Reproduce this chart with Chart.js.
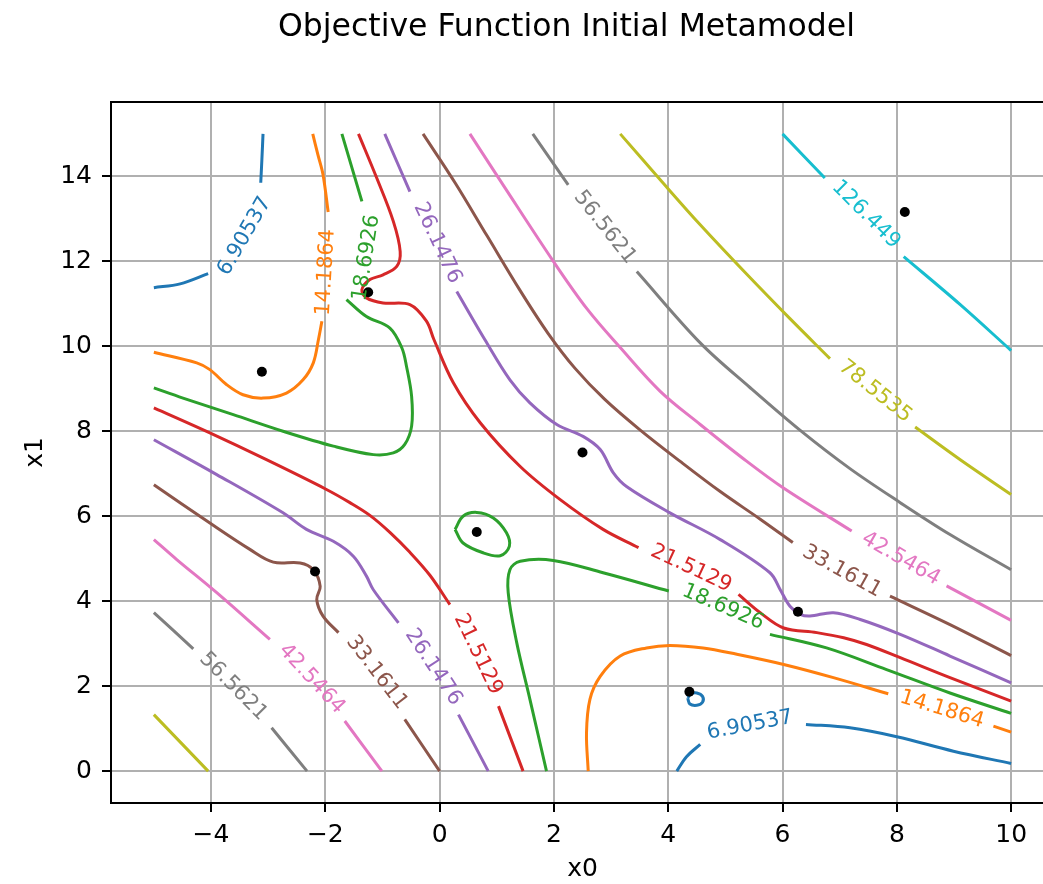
<!DOCTYPE html>
<html>
<head>
<meta charset="utf-8">
<title>Objective Function Initial Metamodel</title>
<script src="https://cdn.jsdelivr.net/npm/chart.js@4.4.1/dist/chart.umd.min.js"></script>
<style>
html, body { margin: 0; padding: 0; overflow: hidden; background: #fff; }
#wrap { width: 1043px; height: 884px; overflow: hidden; position: relative; }
canvas { display: block; }
</style>
</head>
<body>
<div id="wrap"><canvas id="chart" width="1080" height="884"></canvas></div>
<script>
// Contour levels of the metamodel surface
const levels = [6.90537, 14.1864, 18.6926, 21.5129, 26.1476, 33.1611, 42.5464, 56.5621, 78.5535, 126.449];

// Contour polylines per level, as [x0, x1]; a null marks the break left for an inline label
const contour0 = [
  [[-5.0, 11.38], [-4.54, 11.47], [-4.05, 11.71], null, [-3.13, 13.85], [-3.11, 14.39], [-3.09, 15.0]],
  [[4.15, 0.0], [4.32, 0.34], [4.56, 0.63], null, [6.41, 1.10], [7.18, 1.02], [8.0, 0.81], [8.99, 0.47], [10.0, 0.18]],
  [[4.34, 1.72], [4.40, 1.82], [4.50, 1.84], [4.60, 1.76], [4.60, 1.62], [4.50, 1.55], [4.38, 1.58], [4.34, 1.72]]
];
const contour1 = [
  [[-2.22, 15.0], [-2.13, 14.51], [-2.04, 14.04], [-1.95, 13.16], null, [-2.06, 10.59], [-2.12, 10.16], [-2.21, 9.61],
   [-2.39, 9.21], [-2.68, 8.90], [-3.09, 8.78], [-3.44, 8.86], [-3.73, 9.10], [-4.02, 9.45], [-4.25, 9.61], [-5.0, 9.86]],
  [[2.60, 0.0], [2.57, 0.90], [2.63, 1.69], [2.81, 2.23], [3.16, 2.71], [3.62, 2.90], [4.03, 2.96], [4.61, 2.90],
   [5.20, 2.75], [6.02, 2.51], [6.89, 2.20], [7.85, 1.82], null, [9.69, 1.06], [10.0, 0.92]]
];
const contour2 = [
  [[-1.71, 15.0], [-1.36, 13.41], null, [-1.63, 11.10], [-1.28, 10.70], [-0.87, 10.43], [-0.66, 9.96], [-0.58, 9.53],
   [-0.49, 8.82], [-0.49, 8.12], [-0.61, 7.69], [-0.81, 7.49], [-1.16, 7.45], [-1.86, 7.65], [-2.74, 8.00],
   [-3.61, 8.39], [-4.49, 8.78], [-5.0, 9.02]],
  [[1.87, 0.0], [1.58, 1.69], [1.35, 3.02], [1.20, 4.20], [1.23, 4.74], [1.41, 4.94], [1.99, 4.96], [2.86, 4.67],
   [4.01, 4.24], null, [5.78, 3.22], [6.77, 2.90], [7.82, 2.39], [8.93, 1.84], [10.0, 1.36]],
  [[0.27, 5.69], [0.41, 6.00], [0.65, 6.09], [0.94, 5.96], [1.17, 5.61], [1.22, 5.29], [1.06, 5.07], [0.76, 5.14],
   [0.41, 5.37], [0.27, 5.69]]
];
const contour3 = [
  [[-1.42, 15.0], [-1.10, 13.96], [-0.81, 12.94], [-0.69, 12.23], [-0.75, 11.88], [-0.99, 11.68], [-1.22, 11.57],
   [-1.36, 11.33], [-1.28, 11.14], [-0.99, 11.02], [-0.52, 10.98], [-0.23, 10.59], [-0.10, 10.16], [0.24, 9.14],
   [0.71, 8.20], [1.41, 7.17], [2.11, 6.39], [2.86, 5.69], [3.48, 5.26], null, [5.23, 4.16], [5.61, 3.73],
   [6.02, 3.37], [6.60, 3.26], [7.07, 3.14], [7.47, 2.98], [8.06, 2.67], [8.93, 2.20], [10.0, 1.65]],
  [[-5.0, 8.55], [-4.02, 7.96], [-3.03, 7.33], [-1.98, 6.63], [-1.57, 6.32], [-1.22, 6.02], [-0.87, 5.62],
   [-0.52, 5.15], [-0.17, 4.61], [0.18, 3.92], null, [1.03, 1.53], [1.46, 0.0]]
];
const contour4 = [
  [[-0.96, 15.0], [-0.52, 13.64], null, [0.30, 11.29], [0.79, 10.16], [1.23, 9.21], [1.58, 8.67], [2.05, 8.16],
   [2.51, 7.88], [2.81, 7.57], [3.04, 7.02], [3.27, 6.70], [4.03, 6.08], [4.91, 5.45], [5.78, 4.67], [5.96, 4.27],
   [6.13, 3.88], [6.31, 3.69], [6.48, 3.65], [6.89, 3.73], [7.36, 3.57], [8.06, 3.22], [8.93, 2.71], [10.0, 2.08]],
  [[-5.0, 7.80], [-3.90, 6.98], [-2.74, 6.08], [-2.33, 5.69], [-1.86, 5.41], [-1.51, 5.06], [-1.28, 4.59],
   [-1.16, 4.27], [-0.72, 3.49], null, [0.33, 1.33], [0.85, 0.0]]
];
const contour5 = [
  [[-0.29, 15.0], [0.27, 13.85], [0.83, 12.60], [1.41, 11.31], [1.90, 10.30], [2.37, 9.48], [2.89, 8.75],
   [3.50, 8.04], [4.21, 7.29], [4.91, 6.58], [5.61, 5.93], [6.18, 5.38], null, [7.88, 4.12], [8.93, 3.45], [10.0, 2.72]],
  [[-5.0, 6.74], [-4.02, 5.84], [-3.32, 5.22], [-2.91, 4.92], [-2.44, 4.90], [-2.21, 4.74], [-2.09, 4.35],
   [-2.15, 4.04], [-2.04, 3.65], [-1.77, 3.26], null, [-0.61, 1.22], [0.0, 0.0]]
];
const contour6 = [
  [[0.53, 15.0], [1.11, 13.80], [1.99, 12.0], [2.58, 10.88], [3.16, 9.97], [3.86, 8.94], [4.56, 8.16],
   [5.31, 7.36], [6.01, 6.67], [7.21, 5.65], null, [8.87, 4.36], [10.0, 3.55]],
  [[-5.0, 5.45], [-4.60, 4.98], [-3.90, 4.20], [-2.97, 3.10], null, [-1.66, 1.18], [-1.01, 0.0]]
];
const contour7 = [
  [[1.63, 15.0], [2.25, 13.80], null, [3.45, 11.76], [4.56, 10.08], [5.43, 9.03], [6.31, 8.02], [7.18, 7.12],
   [8.06, 6.32], [8.93, 5.57], [10.0, 4.74]],
  [[-5.0, 3.73], [-4.31, 2.88], null, [-2.94, 1.02], [-2.32, 0.0]]
];
const contour8 = [
  [[3.16, 15.0], [3.86, 13.92], [4.56, 12.86], [5.35, 11.73], [6.13, 10.65], [6.83, 9.71], null, [8.32, 8.10],
   [9.11, 7.33], [10.0, 6.51]],
  [[-5.0, 1.33], [-4.05, 0.0]]
];
const contour9 = [
  [[6.0, 15.0], [6.74, 13.96], null, [8.12, 12.11], [9.11, 10.98], [10.0, 9.90]]
];

// Inline label anchors per level, in the order the breaks appear above
const labels0 = [[-3.41, 12.59], [5.43, 1.08]];
const labels1 = [[-1.99, 11.74], [8.79, 1.45]];
const labels2 = [[-1.28, 12.08], [4.96, 3.86]];
const labels3 = [[4.40, 4.77], [0.67, 2.75]];
const labels4 = [[-0.04, 12.43], [-0.11, 2.45]];
const labels5 = [[7.04, 4.70], [-1.10, 2.32]];
const labels6 = [[8.07, 5.00], [-2.24, 2.17]];
const labels7 = [[2.89, 12.80], [-3.61, 1.99]];
const labels8 = [[7.62, 8.94]];
const labels9 = [[7.46, 13.10]];

// Initial sample points
const sampleX = [-3.11, -1.25, 2.50, 0.65, -2.18, 6.27, 4.37, 8.14];
const sampleY = [9.40, 11.27, 7.50, 5.63, 4.70, 3.75, 1.87, 13.16];

// Axis ticks
const xTicks = [-4, -2, 0, 2, 4, 6, 8, 10];
const yTicks = [0, 2, 4, 6, 8, 10, 12, 14];

const titleText = 'Objective Function Initial Metamodel';
const contourPaths = [contour0, contour1, contour2, contour3, contour4, contour5, contour6, contour7, contour8, contour9];
const contourLabels = [labels0, labels1, labels2, labels3, labels4, labels5, labels6, labels7, labels8, labels9];
const palette = ['#1f77b4', '#ff7f0e', '#2ca02c', '#d62728', '#9467bd', '#8c564b', '#e377c2', '#7f7f7f', '#bcbd22', '#17becf'];

const FONT = '"DejaVu Sans", "Liberation Sans", sans-serif';
Chart.defaults.font.family = FONT;

const fmtTick = v => (v < 0 ? '\u2212' + Math.abs(v) : String(v));
// a break becomes an empty point, which the line element skips
const toPoints = line => line.map(p => (p ? { x: p[0], y: p[1] } : { x: null, y: null }));
const isBreak = p => p.x === null;

const datasets = [{
  type: 'scatter',
  label: 'samples',
  data: sampleX.map((x, i) => ({ x, y: sampleY[i] })),
  showLine: false,
  pointRadius: 5,
  pointBackgroundColor: '#000',
  pointBorderWidth: 0,
  order: 0
}];

contourPaths.forEach((paths, k) => {
  let used = 0;
  paths.forEach(line => {
    const breaks = line.filter(p => p === null).length;
    datasets.push({
      type: 'line',
      label: String(levels[k]),
      data: toPoints(line),
      borderColor: palette[k],
      borderWidth: 3,
      pointRadius: 0,
      tension: 0.35,
      spanGaps: false,
      fill: false,
      order: 1,
      levelIndex: k,
      labelAnchors: contourLabels[k].slice(used, used + breaks)
    });
    used += breaks;
  });
});

// Writes each level value into its break, turned along the line
const contourLabelPlugin = {
  id: 'contourLabels',
  afterDatasetsDraw(chart) {
    const { ctx } = chart;
    const xs = chart.scales.x, ys = chart.scales.y;
    ctx.save();
    ctx.font = '21px ' + FONT;
    ctx.textAlign = 'center';
    ctx.textBaseline = 'middle';
    chart.data.datasets.forEach(ds => {
      if (!ds.labelAnchors) return;
      const pts = ds.data;
      let n = 0;
      pts.forEach((p, i) => {
        if (!isBreak(p)) return;
        const a = pts[i - 1], b = pts[i + 1], anchor = ds.labelAnchors[n++];
        const ax = xs.getPixelForValue(a.x), ay = ys.getPixelForValue(a.y);
        const bx = xs.getPixelForValue(b.x), by = ys.getPixelForValue(b.y);
        let ang = Math.atan2(by - ay, bx - ax);
        if (ang > Math.PI / 2) ang -= Math.PI;
        if (ang < -Math.PI / 2) ang += Math.PI;
        ctx.save();
        ctx.translate(xs.getPixelForValue(anchor[0]), ys.getPixelForValue(anchor[1]));
        ctx.rotate(ang);
        ctx.fillStyle = ds.borderColor;
        ctx.fillText(String(levels[ds.levelIndex]), 0, 0);
        ctx.restore();
      });
    });
    ctx.restore();
  }
};

// Top spine of the axes frame and the figure title
const framePlugin = {
  id: 'frame',
  afterDraw(chart) {
    const { ctx, chartArea: { left, top, right } } = chart;
    ctx.save();
    ctx.strokeStyle = '#000';
    ctx.lineWidth = 2;
    ctx.beginPath();
    ctx.moveTo(left - 1, top);
    ctx.lineTo(right + 1, top);
    ctx.stroke();
    ctx.fillStyle = '#000';
    ctx.font = '31.5px ' + FONT;
    ctx.textAlign = 'center';
    ctx.textBaseline = 'alphabetic';
    ctx.fillText(titleText, 566.5, 36);
    ctx.restore();
  }
};

const axisCommon = {
  type: 'linear',
  grid: { color: '#b0b0b0', lineWidth: 2, tickLength: 9, tickColor: '#000', tickWidth: 2 },
  border: { color: '#000', width: 2 }
};

new Chart(document.getElementById('chart'), {
  type: 'line',
  data: { datasets },
  options: {
    responsive: false,
    animation: false,
    devicePixelRatio: 1,
    events: [],
    // the axes run on past the right edge of the visible page
    layout: { padding: { left: 0, right: 26, top: 102, bottom: 0 }, autoPadding: false },
    plugins: { legend: { display: false }, tooltip: { enabled: false }, title: { display: false } },
    scales: {
      x: {
        ...axisCommon,
        min: -5.75,
        max: 10.75,
        afterFit: s => { s.height = 81; },
        afterBuildTicks: s => { s.ticks = xTicks.map(v => ({ value: v })); },
        ticks: { callback: v => fmtTick(v), color: '#000', font: { size: 25 }, padding: 8, maxRotation: 0, autoSkip: false },
        title: { display: true, text: 'x0', color: '#000', font: { size: 25 }, padding: { top: 0, bottom: 0 } }
      },
      y: {
        ...axisCommon,
        min: -0.75,
        max: 15.75,
        afterFit: s => { s.width = 111; },
        afterBuildTicks: s => { s.ticks = yTicks.map(v => ({ value: v })); },
        ticks: { callback: v => fmtTick(v), color: '#000', font: { size: 25 }, padding: 10, autoSkip: false },
        title: { display: true, text: 'x1', color: '#000', font: { size: 25 }, padding: { top: 20, bottom: 0 } }
      }
    }
  },
  plugins: [contourLabelPlugin, framePlugin]
});
</script>
</body>
</html>
